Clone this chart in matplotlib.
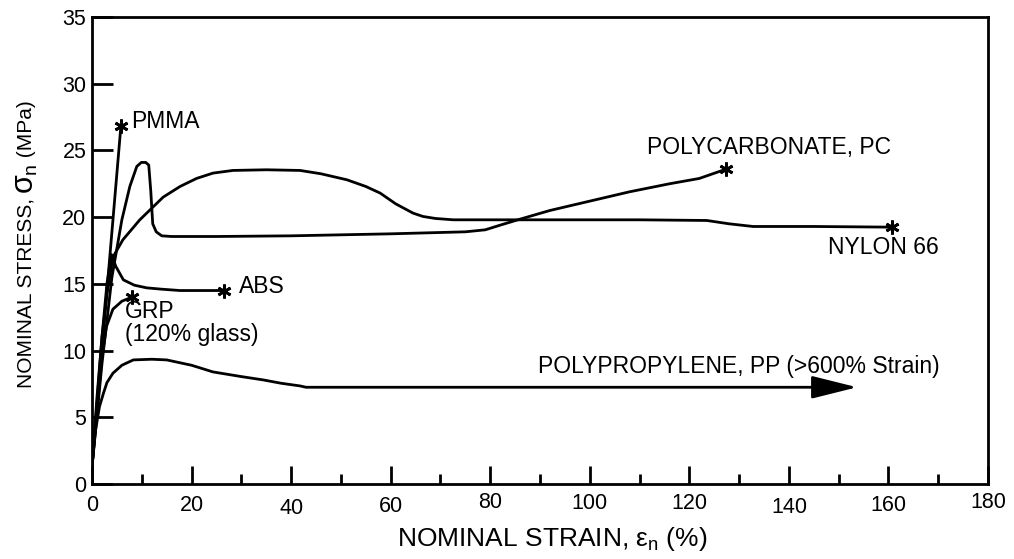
import matplotlib
matplotlib.use("Agg")
import matplotlib.pyplot as plt
from matplotlib.transforms import ScaledTranslation, IdentityTransform

plt.rcParams['font.family'] = ['Liberation Sans', 'DejaVu Sans']
plt.rcParams['mathtext.fontset'] = 'custom'
plt.rcParams['mathtext.rm'] = 'Liberation Sans'
plt.rcParams['mathtext.it'] = 'Liberation Sans'

# ---- data ----
pmma_x = [0, 5.8]
pmma_y = [1.3, 26.8]

pc_x = [0, 2, 4, 6, 7.6, 9, 9.9, 10.8, 11.4, 11.8, 12.2, 12.9, 14, 16, 25, 40, 60, 75, 79, 82, 86, 92, 100, 108, 116, 122, 127.4]
pc_y = [1.3, 9, 15.5, 19.8, 22.3, 23.8, 24.1, 24.1, 23.9, 22, 19.5, 18.9, 18.6, 18.55, 18.55, 18.6, 18.75, 18.9, 19.05, 19.4, 19.85, 20.5, 21.2, 21.9, 22.5, 22.9, 23.6]

nylon_x = [0, 1, 2, 3, 4.2, 6.2, 9.6, 14.3, 17.7, 21, 24.3, 28.3, 35, 41.8, 46, 51.2, 55, 57.9, 61, 64.5, 66.5, 69, 72.6, 90, 110, 123.5, 128, 132.8, 145, 160.8]
nylon_y = [1.3, 6.5, 11, 14.2, 17.0, 18.3, 19.8, 21.5, 22.3, 22.9, 23.3, 23.5, 23.55, 23.5, 23.25, 22.8, 22.3, 21.8, 21.0, 20.3, 20.05, 19.9, 19.8, 19.8, 19.8, 19.75, 19.5, 19.3, 19.3, 19.25]

abs_x = [0, 1, 2, 3, 3.9, 4.8, 6.3, 8.5, 11, 14, 17.7, 22, 26.5]
abs_y = [1.3, 6, 11, 15, 17.2, 16.3, 15.3, 14.9, 14.7, 14.6, 14.5, 14.5, 14.5]

grp_x = [0, 1, 2, 2.9, 4.2, 6, 8]
grp_y = [1.3, 5.5, 9.5, 11.8, 13.1, 13.7, 14.0]

pp_x = [0, 0.7, 1.5, 2.3, 3, 4.2, 6, 8.3, 12, 15, 20, 24.3, 30, 34.4, 38, 41.8, 43, 60, 90, 120, 148]
pp_y = [1.3, 4, 5.8, 6.8, 7.6, 8.3, 8.9, 9.3, 9.35, 9.3, 8.9, 8.4, 8.05, 7.8, 7.55, 7.35, 7.25, 7.25, 7.25, 7.25, 7.25]
pp_arrow_end = 153.7

x_ticks = [0, 20, 40, 60, 80, 100, 120, 140, 160, 180]
x_tick_labels = ['0', '20', '40', '60', '80', '100', '120', '140', '160', '180']
y_ticks = [0, 5, 10, 15, 20, 25, 30, 35]

fig = plt.figure(figsize=(10.14, 5.59), dpi=100)
ax = fig.add_axes([92/1014, 1-484/559, 896/1014, 467/559])

lw = 2.0
for xs, ys in [(pmma_x, pmma_y), (pc_x, pc_y), (nylon_x, nylon_y),
               (abs_x, abs_y), (grp_x, grp_y), (pp_x, pp_y)]:
    ax.plot(xs, ys, color='black', lw=lw, solid_capstyle='round', solid_joinstyle='round')

# break markers
star = (6, 2, 0)
for xs, ys in [(pmma_x, pmma_y), (pc_x, pc_y), (nylon_x, nylon_y), (abs_x, abs_y), (grp_x, grp_y)]:
    ax.plot(xs[-1], ys[-1], marker=star, color='black', markersize=10, markeredgewidth=2)

ax.annotate('', xy=(pp_arrow_end, pp_y[-1]), xytext=(pp_x[-1] - 1, pp_y[-1]),
            arrowprops=dict(arrowstyle='-|>,head_length=1.4,head_width=0.35', color='black', lw=lw,
                            shrinkA=0, shrinkB=0, mutation_scale=20))

fs = 16.5
ax.text(7.9, 27.2, 'PMMA', fontsize=fs, va='center', ha='left')
ax.text(29.5, 14.77, 'ABS', fontsize=fs, va='center', ha='left')
ax.text(6.6, 12.9, 'GRP', fontsize=fs, va='center', ha='left')
ax.text(6.6, 11.17, '(120% glass)', fontsize=fs, va='center', ha='left')
ax.text(111.4, 25.2, 'POLYCARBONATE, PC', fontsize=fs, va='center', ha='left')
ax.text(147.8, 17.7, 'NYLON 66', fontsize=fs, va='center', ha='left')
ax.text(89.6, 8.77, 'POLYPROPYLENE, PP (>600% Strain)', fontsize=fs, va='center', ha='left')

ax.set_xlim(0, 180)
ax.set_ylim(0, 35)
ax.set_xticks(x_ticks)
ax.set_xticklabels(x_tick_labels)
ax.set_xticks(list(range(10, 180, 20)), minor=True)
ax.set_yticks(y_ticks)
ax.tick_params(axis='both', which='major', direction='in', width=2, labelsize=15.5)
ax.tick_params(axis='x', which='major', length=13, pad=8)
ax.tick_params(axis='x', which='minor', direction='in', length=7, width=2)
ax.tick_params(axis='y', which='major', length=15, pad=4)
for s in ax.spines.values():
    s.set_linewidth(2)

# slight vertical stagger of the x tick labels, as in the original drawing
x_label_shift = [0, 0, 3, 1, -3, -2, -2, 2, 0, -3]
for lab, dy in zip(ax.get_xticklabels(), x_label_shift):
    lab.set_transform(lab.get_transform() + ScaledTranslation(0, -dy / 100, fig.dpi_scale_trans))

fig.text(552/1014, 1-539/559, r'NOMINAL STRAIN, $\varepsilon_\mathregular{n}$ (%)', fontsize=19,
         ha='center', va='center')

# y label built from pieces so the sigma can be drawn larger
fig.canvas.draw()
renderer = fig.canvas.get_renderer()
base_x = 32.0
pos_y = 559 - 388.0
pieces = [('NOMINAL STRESS, ', 15, 0), ('\u03c3', 22, 0), ('n', 14, 4), (' (MPa)', 15, 0)]
for s, size, dx in pieces:
    t = fig.text(base_x + dx, pos_y, s, fontsize=size, rotation=90, rotation_mode='anchor',
                 ha='left', va='baseline', transform=IdentityTransform())
    bb = t.get_window_extent(renderer)
    pos_y += bb.height

fig.savefig('out.png', dpi=100)
